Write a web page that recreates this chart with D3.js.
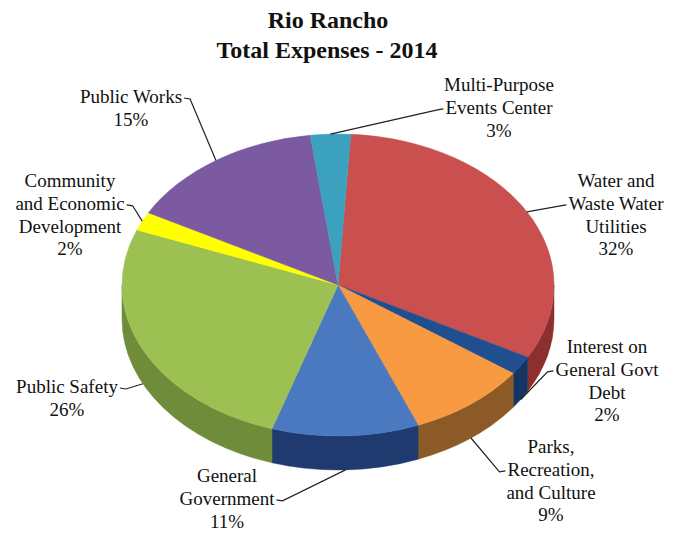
<!DOCTYPE html>
<html>
<head>
<meta charset="utf-8">
<script src="https://cdn.jsdelivr.net/npm/d3@7"></script>
<style>
  body { margin: 0; background: #fff; }
</style>
</head>
<body>
<script>
// 数据
const categories = [
  "Water and\nWaste Water\nUtilities",
  "Interest on\nGeneral Govt\nDebt",
  "Parks,\nRecreation,\nand Culture",
  "General\nGovernment",
  "Public Safety",
  "Community\nand Economic\nDevelopment",
  "Public Works",
  "Multi-Purpose\nEvents Center"
];
const values = [32, 2, 9, 11, 26, 2, 15, 3];

// 样式
const topColors  = ["#c9504e", "#1f4f8e", "#f89a42", "#4b79c0", "#9cc152", "#ffff00", "#7b5aa1", "#3ba1bf"];
const sideColors = ["#8e2f2f", "#143562", "#8c5a26", "#1f3a6e", "#6f8c3a", "#a6a600", "#4e3870", "#23687c"];

// 标签布局: 中心x, 第一行基线y, 引线所在行, 引线方向
const labelLayout = [
  {x: 616, y: 187, line: 1, side: "left"},
  {x: 607, y: 353, line: 1, side: "left"},
  {x: 551, y: 453, line: 1, side: "left"},
  {x: 227, y: 482, line: 1, side: "right"},
  {x: 67,  y: 393, line: 0, side: "right"},
  {x: 70,  y: 187, line: 1, side: "right"},
  {x: 131, y: 103, line: 0, side: "right"},
  {x: 499, y: 91,  line: 1, side: "left"}
];

const width = 679, height = 533;
const cx = 338, cy = 285, rx = 216, ry = 151, depth = 34;
const lineH = 22.8;
const startDeg = 3.4;

// 找一个可用的衬线字体
function pickFont(list) {
  const ctx = document.createElement("canvas").getContext("2d");
  const probe = "Public Works Multi-Purpose 2014 mmmWWWiii";
  ctx.font = "30px monospace";
  const base = ctx.measureText(probe).width;
  for (const f of list) {
    ctx.font = `30px '${f}', monospace`;
    if (Math.abs(ctx.measureText(probe).width - base) > 0.5) return f;
  }
  return null;
}
const found = pickFont(["Liberation Serif", "Tinos", "Times New Roman", "DejaVu Serif",
  "Nimbus Roman", "Nimbus Roman No9 L", "FreeSerif", "Noto Serif", "Times", "Georgia"]);
const serif = found ? `'${found}', serif` : "serif";

const svg = d3.select("body").append("svg")
  .attr("width", width)
  .attr("height", height)
  .attr("font-family", serif);

// 标题
const title = svg.append("text")
  .attr("text-anchor", "middle")
  .attr("font-family", serif)
  .attr("font-weight", "bold")
  .attr("font-size", 24)
  .attr("fill", "#111");
title.append("tspan").attr("x", 328).attr("y", 28).text("Rio Rancho");
title.append("tspan").attr("x", 327).attr("y", 58).text("Total Expenses - 2014");

// 饼图角度
const start = startDeg * Math.PI / 180;
const pie = d3.pie().sort(null).value(d => d)
  .startAngle(start).endAngle(start + 2 * Math.PI);
const arcs = pie(values);

// 椭圆投影
const px = a => cx + rx * Math.sin(a);
const py = a => cy - ry * Math.cos(a);

function topPath(d) {
  const large = d.endAngle - d.startAngle > Math.PI ? 1 : 0;
  return `M${cx},${cy}L${px(d.startAngle)},${py(d.startAngle)}` +
    `A${rx},${ry} 0 ${large} 1 ${px(d.endAngle)},${py(d.endAngle)}Z`;
}

function sidePath(d) {
  const s = Math.max(d.startAngle, Math.PI / 2);
  const e = Math.min(d.endAngle, 3 * Math.PI / 2);
  if (e <= s) return null;
  return `M${px(s)},${py(s)}A${rx},${ry} 0 0 1 ${px(e)},${py(e)}` +
    `L${px(e)},${py(e) + depth}A${rx},${ry} 0 0 0 ${px(s)},${py(s) + depth}Z`;
}

// 侧面
svg.append("g").selectAll("path")
  .data(arcs.filter(d => sidePath(d)))
  .enter()
  .append("path")
  .attr("d", sidePath)
  .attr("fill", d => sideColors[d.index])
  .attr("stroke", d => sideColors[d.index])
  .attr("stroke-width", 0.5);

// 顶面
svg.append("g").selectAll("path")
  .data(arcs)
  .enter()
  .append("path")
  .attr("d", topPath)
  .attr("fill", d => topColors[d.index])
  .attr("stroke", d => topColors[d.index])
  .attr("stroke-width", 0.5);

// 标签和引线
const labels = svg.append("g");
const leaders = svg.append("g");

arcs.forEach(d => {
  const lay = labelLayout[d.index];
  const lines = categories[d.index].split("\n").concat([values[d.index] + "%"]);
  const t = labels.append("text")
    .attr("text-anchor", "middle")
    .attr("font-family", serif)
    .attr("font-size", 19)
    .attr("fill", "#111");
  const spans = lines.map((ln, i) => t.append("tspan")
    .attr("x", lay.x)
    .attr("y", lay.y + i * lineH)
    .text(ln));

  const w = spans[lay.line].node().getComputedTextLength();
  const ly = lay.y + lay.line * lineH - 5;
  const lx = lay.side === "right" ? lay.x + w / 2 + 2 : lay.x - w / 2 - 2;
  const hx = lay.side === "right" ? lx + 6 : lx - 6;

  const mid = (d.startAngle + d.endAngle) / 2;
  const tx = px(mid);
  const ty = py(mid) + (Math.cos(mid) < 0 ? depth : 0);

  leaders.append("path")
    .attr("d", `M${lx},${ly}L${hx},${ly + 1}L${tx},${ty}`)
    .attr("fill", "none")
    .attr("stroke", "#222")
    .attr("stroke-width", 1.2);
});
</script>
</body>
</html>
